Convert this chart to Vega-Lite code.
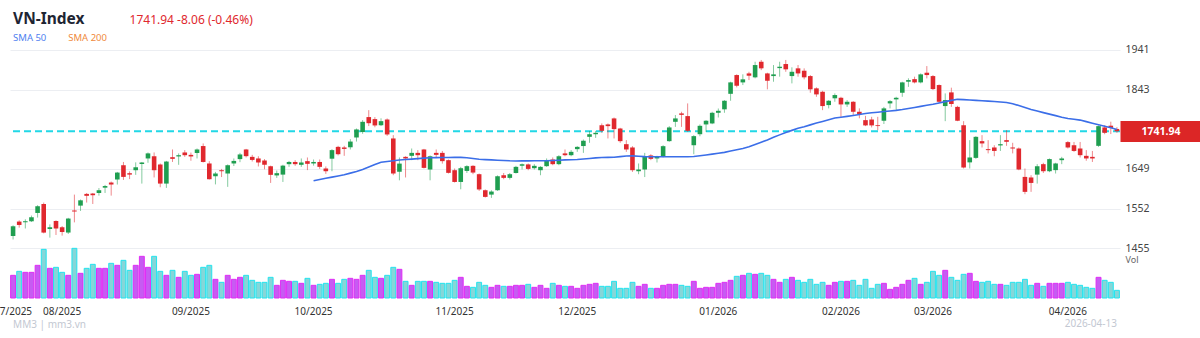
{
  "$schema": "https://vega.github.io/schema/vega-lite/v6.json",
  "width": 1110,
  "height": 253,
  "autosize": {"type": "none"},
  "padding": {"left": 10, "top": 45, "right": 80, "bottom": 40},
  "background": "white",
  "config": {"view": {"stroke": null}, "font": "Noto Sans", "axis": {"labelFont": "Noto Sans", "titleFont": "Noto Sans"}, "text": {"font": "Noto Sans"}},
  "datasets": {
    "ohlc": [
      {"d":"2025-07-22","o":1485.2,"h":1511.4,"l":1476.6,"c":1509.0,"v":680},
      {"d":"2025-07-23","o":1520.5,"h":1523.6,"l":1505.6,"c":1512.2,"v":800},
      {"d":"2025-07-24","o":1518.6,"h":1526.1,"l":1503.6,"c":1521.6,"v":770},
      {"d":"2025-07-25","o":1521.2,"h":1535.2,"l":1519.6,"c":1531.1,"v":770},
      {"d":"2025-07-28","o":1541.6,"h":1560.6,"l":1530.3,"c":1558.1,"v":980},
      {"d":"2025-07-29","o":1563.6,"h":1567.1,"l":1491.6,"c":1493.5,"v":1460},
      {"d":"2025-07-30","o":1502.6,"h":1513.6,"l":1481.2,"c":1506.6,"v":890},
      {"d":"2025-07-31","o":1522.0,"h":1523.6,"l":1487.6,"c":1503.6,"v":920},
      {"d":"2025-08-01","o":1506.6,"h":1509.6,"l":1486.1,"c":1495.0,"v":770},
      {"d":"2025-08-04","o":1493.6,"h":1529.6,"l":1490.1,"c":1527.9,"v":680},
      {"d":"2025-08-05","o":1547.6,"h":1586.6,"l":1518.6,"c":1545.1,"v":1490},
      {"d":"2025-08-06","o":1559.6,"h":1574.6,"l":1546.6,"c":1572.6,"v":740},
      {"d":"2025-08-07","o":1588.3,"h":1590.6,"l":1567.1,"c":1583.6,"v":890},
      {"d":"2025-08-08","o":1589.2,"h":1590.6,"l":1563.6,"c":1585.1,"v":1010},
      {"d":"2025-08-11","o":1590.6,"h":1602.6,"l":1584.1,"c":1597.3,"v":890},
      {"d":"2025-08-12","o":1603.6,"h":1610.3,"l":1590.6,"c":1607.6,"v":890},
      {"d":"2025-08-13","o":1616.2,"h":1618.6,"l":1584.1,"c":1611.3,"v":1040},
      {"d":"2025-08-14","o":1623.6,"h":1642.2,"l":1611.3,"c":1640.6,"v":980},
      {"d":"2025-08-15","o":1658.6,"h":1666.6,"l":1622.6,"c":1630.0,"v":1130},
      {"d":"2025-08-18","o":1639.1,"h":1643.6,"l":1624.6,"c":1635.6,"v":830},
      {"d":"2025-08-19","o":1646.4,"h":1665.6,"l":1635.0,"c":1653.6,"v":980},
      {"d":"2025-08-20","o":1661.6,"h":1666.6,"l":1613.6,"c":1665.3,"v":1250},
      {"d":"2025-08-21","o":1675.2,"h":1689.9,"l":1664.6,"c":1687.6,"v":920},
      {"d":"2025-08-22","o":1680.6,"h":1689.9,"l":1628.6,"c":1646.4,"v":1250},
      {"d":"2025-08-25","o":1660.4,"h":1662.9,"l":1604.6,"c":1613.6,"v":800},
      {"d":"2025-08-26","o":1613.6,"h":1669.2,"l":1603.0,"c":1667.6,"v":680},
      {"d":"2025-08-27","o":1678.3,"h":1697.2,"l":1666.6,"c":1674.2,"v":830},
      {"d":"2025-08-28","o":1680.1,"h":1687.6,"l":1659.6,"c":1683.2,"v":620},
      {"d":"2025-08-29","o":1689.9,"h":1695.6,"l":1679.1,"c":1683.2,"v":800},
      {"d":"2025-09-03","o":1684.0,"h":1689.6,"l":1669.6,"c":1680.1,"v":680},
      {"d":"2025-09-04","o":1688.6,"h":1699.6,"l":1675.2,"c":1697.2,"v":710},
      {"d":"2025-09-05","o":1705.6,"h":1712.0,"l":1665.3,"c":1666.6,"v":920},
      {"d":"2025-09-08","o":1662.9,"h":1668.6,"l":1623.6,"c":1624.3,"v":980},
      {"d":"2025-09-09","o":1631.6,"h":1642.2,"l":1611.6,"c":1638.3,"v":560},
      {"d":"2025-09-10","o":1646.4,"h":1649.6,"l":1629.6,"c":1643.9,"v":470},
      {"d":"2025-09-11","o":1638.3,"h":1660.6,"l":1605.6,"c":1658.6,"v":680},
      {"d":"2025-09-12","o":1662.9,"h":1675.2,"l":1656.6,"c":1669.2,"v":560},
      {"d":"2025-09-15","o":1673.6,"h":1688.9,"l":1666.1,"c":1685.0,"v":620},
      {"d":"2025-09-16","o":1697.2,"h":1698.6,"l":1677.6,"c":1680.8,"v":680},
      {"d":"2025-09-17","o":1679.1,"h":1684.0,"l":1667.8,"c":1671.6,"v":530},
      {"d":"2025-09-18","o":1675.2,"h":1680.6,"l":1655.6,"c":1665.3,"v":470},
      {"d":"2025-09-19","o":1670.2,"h":1673.6,"l":1648.6,"c":1659.6,"v":470},
      {"d":"2025-09-22","o":1656.1,"h":1657.6,"l":1615.2,"c":1635.0,"v":620},
      {"d":"2025-09-23","o":1633.6,"h":1645.6,"l":1627.6,"c":1639.1,"v":380},
      {"d":"2025-09-24","o":1635.6,"h":1659.6,"l":1617.6,"c":1657.6,"v":530},
      {"d":"2025-09-25","o":1661.2,"h":1669.2,"l":1654.6,"c":1666.6,"v":500},
      {"d":"2025-09-26","o":1666.6,"h":1671.0,"l":1657.1,"c":1661.2,"v":500},
      {"d":"2025-09-29","o":1659.6,"h":1675.2,"l":1654.6,"c":1665.3,"v":440},
      {"d":"2025-09-30","o":1668.6,"h":1677.6,"l":1646.6,"c":1662.0,"v":590},
      {"d":"2025-10-01","o":1662.9,"h":1672.6,"l":1657.6,"c":1666.6,"v":380,"s":1620.7},
      {"d":"2025-10-02","o":1666.6,"h":1672.6,"l":1649.6,"c":1654.6,"v":410,"s":1623.7},
      {"d":"2025-10-03","o":1650.6,"h":1655.6,"l":1637.3,"c":1643.9,"v":440,"s":1626.5},
      {"d":"2025-10-06","o":1674.6,"h":1698.0,"l":1643.9,"c":1695.6,"v":560,"s":1629.4},
      {"d":"2025-10-07","o":1703.6,"h":1706.1,"l":1682.6,"c":1685.6,"v":440,"s":1632.2},
      {"d":"2025-10-08","o":1702.1,"h":1706.1,"l":1681.6,"c":1698.6,"v":560,"s":1635.3},
      {"d":"2025-10-09","o":1702.6,"h":1722.5,"l":1697.2,"c":1716.6,"v":590,"s":1639.2},
      {"d":"2025-10-10","o":1726.6,"h":1748.6,"l":1716.6,"c":1746.3,"v":560,"s":1643.1},
      {"d":"2025-10-13","o":1739.9,"h":1769.1,"l":1735.6,"c":1765.0,"v":680,"s":1648.1},
      {"d":"2025-10-14","o":1776.6,"h":1793.6,"l":1754.6,"c":1761.6,"v":830,"s":1654.4},
      {"d":"2025-10-15","o":1771.6,"h":1776.6,"l":1751.6,"c":1756.1,"v":620,"s":1660.6},
      {"d":"2025-10-16","o":1756.6,"h":1773.6,"l":1754.6,"c":1766.6,"v":590,"s":1666.1},
      {"d":"2025-10-17","o":1770.6,"h":1773.3,"l":1730.6,"c":1734.0,"v":680,"s":1667.8},
      {"d":"2025-10-20","o":1724.2,"h":1732.3,"l":1634.2,"c":1638.3,"v":920,"s":1669.5},
      {"d":"2025-10-21","o":1642.6,"h":1677.6,"l":1621.6,"c":1662.6,"v":860,"s":1671.3},
      {"d":"2025-10-22","o":1679.1,"h":1680.6,"l":1628.6,"c":1675.2,"v":500,"s":1672.5},
      {"d":"2025-10-23","o":1681.6,"h":1699.6,"l":1671.0,"c":1688.9,"v":380,"s":1673.6},
      {"d":"2025-10-24","o":1688.9,"h":1695.6,"l":1671.0,"c":1683.2,"v":500,"s":1674.8},
      {"d":"2025-10-27","o":1697.2,"h":1698.6,"l":1650.6,"c":1652.1,"v":500,"s":1675.9},
      {"d":"2025-10-28","o":1648.1,"h":1682.6,"l":1621.6,"c":1680.6,"v":500,"s":1677.0},
      {"d":"2025-10-29","o":1688.9,"h":1697.2,"l":1677.6,"c":1684.0,"v":470,"s":1677.2},
      {"d":"2025-10-30","o":1688.9,"h":1693.6,"l":1662.6,"c":1668.6,"v":440,"s":1677.4},
      {"d":"2025-10-31","o":1671.0,"h":1672.6,"l":1638.3,"c":1639.9,"v":440,"s":1677.6},
      {"d":"2025-11-03","o":1646.4,"h":1650.6,"l":1616.2,"c":1617.6,"v":530,"s":1677.8},
      {"d":"2025-11-04","o":1617.6,"h":1654.6,"l":1599.6,"c":1651.3,"v":620,"s":1677.9},
      {"d":"2025-11-05","o":1644.6,"h":1658.6,"l":1639.6,"c":1656.3,"v":350,"s":1676.8},
      {"d":"2025-11-06","o":1657.1,"h":1658.6,"l":1636.6,"c":1640.6,"v":320,"s":1675.1},
      {"d":"2025-11-07","o":1636.6,"h":1638.3,"l":1595.6,"c":1599.2,"v":470,"s":1673.3},
      {"d":"2025-11-10","o":1597.3,"h":1599.2,"l":1579.4,"c":1581.0,"v":380,"s":1672.4},
      {"d":"2025-11-11","o":1586.6,"h":1597.3,"l":1578.6,"c":1594.1,"v":320,"s":1671.7},
      {"d":"2025-11-12","o":1597.3,"h":1633.6,"l":1595.6,"c":1631.6,"v":380,"s":1670.9},
      {"d":"2025-11-13","o":1634.1,"h":1639.6,"l":1624.3,"c":1627.6,"v":350,"s":1670.2},
      {"d":"2025-11-14","o":1627.6,"h":1639.6,"l":1623.6,"c":1636.6,"v":350,"s":1669.4},
      {"d":"2025-11-17","o":1639.6,"h":1657.1,"l":1638.3,"c":1654.6,"v":380,"s":1669.1},
      {"d":"2025-11-18","o":1657.6,"h":1662.9,"l":1648.1,"c":1661.2,"v":380,"s":1669.2},
      {"d":"2025-11-19","o":1660.6,"h":1662.9,"l":1646.4,"c":1649.6,"v":410,"s":1669.3},
      {"d":"2025-11-20","o":1651.3,"h":1661.2,"l":1648.1,"c":1657.1,"v":320,"s":1669.4},
      {"d":"2025-11-21","o":1646.4,"h":1656.3,"l":1634.1,"c":1654.6,"v":380,"s":1669.6},
      {"d":"2025-11-24","o":1656.3,"h":1675.2,"l":1654.6,"c":1669.2,"v":290,"s":1669.7},
      {"d":"2025-11-25","o":1672.6,"h":1677.6,"l":1658.6,"c":1661.2,"v":440,"s":1670.3},
      {"d":"2025-11-26","o":1661.2,"h":1683.2,"l":1658.6,"c":1680.6,"v":380,"s":1670.9},
      {"d":"2025-11-27","o":1687.6,"h":1697.2,"l":1680.6,"c":1683.2,"v":350,"s":1671.6},
      {"d":"2025-11-28","o":1683.2,"h":1695.6,"l":1680.6,"c":1691.4,"v":350,"s":1672.2},
      {"d":"2025-12-01","o":1698.0,"h":1705.3,"l":1691.4,"c":1703.6,"v":290,"s":1672.8},
      {"d":"2025-12-02","o":1705.6,"h":1721.6,"l":1688.9,"c":1718.6,"v":380,"s":1673.9},
      {"d":"2025-12-03","o":1728.2,"h":1742.6,"l":1713.6,"c":1734.6,"v":410,"s":1675.2},
      {"d":"2025-12-04","o":1734.6,"h":1742.6,"l":1725.6,"c":1738.0,"v":440,"s":1676.6},
      {"d":"2025-12-05","o":1756.6,"h":1761.0,"l":1738.0,"c":1742.9,"v":350,"s":1677.6},
      {"d":"2025-12-08","o":1758.6,"h":1761.0,"l":1724.2,"c":1754.4,"v":350,"s":1677.8},
      {"d":"2025-12-09","o":1773.3,"h":1775.6,"l":1724.2,"c":1747.1,"v":500,"s":1678.3},
      {"d":"2025-12-10","o":1748.6,"h":1750.3,"l":1713.6,"c":1717.6,"v":290,"s":1679.7},
      {"d":"2025-12-11","o":1710.2,"h":1720.1,"l":1691.4,"c":1697.2,"v":290,"s":1681.1},
      {"d":"2025-12-12","o":1702.1,"h":1705.3,"l":1642.2,"c":1646.4,"v":470,"s":1681.5},
      {"d":"2025-12-15","o":1643.9,"h":1662.9,"l":1636.6,"c":1648.1,"v":350,"s":1680.6},
      {"d":"2025-12-16","o":1648.1,"h":1688.9,"l":1629.6,"c":1679.1,"v":410,"s":1679.8},
      {"d":"2025-12-17","o":1682.6,"h":1685.6,"l":1671.0,"c":1674.2,"v":290,"s":1679.5},
      {"d":"2025-12-18","o":1675.2,"h":1681.6,"l":1665.3,"c":1679.1,"v":290,"s":1679.4},
      {"d":"2025-12-19","o":1679.1,"h":1707.6,"l":1677.6,"c":1705.3,"v":380,"s":1679.3},
      {"d":"2025-12-22","o":1717.6,"h":1754.4,"l":1716.0,"c":1751.2,"v":410,"s":1679.3},
      {"d":"2025-12-23","o":1765.0,"h":1781.6,"l":1752.6,"c":1773.3,"v":410,"s":1679.4},
      {"d":"2025-12-24","o":1785.6,"h":1789.6,"l":1752.6,"c":1782.0,"v":380,"s":1679.4},
      {"d":"2025-12-25","o":1779.0,"h":1810.1,"l":1740.4,"c":1742.9,"v":350,"s":1679.5},
      {"d":"2025-12-26","o":1707.6,"h":1732.3,"l":1685.6,"c":1729.9,"v":500,"s":1679.8},
      {"d":"2025-12-29","o":1734.6,"h":1758.6,"l":1729.6,"c":1755.2,"v":290,"s":1681.8},
      {"d":"2025-12-30","o":1758.6,"h":1769.1,"l":1740.4,"c":1767.6,"v":320,"s":1683.8},
      {"d":"2025-12-31","o":1761.0,"h":1789.6,"l":1759.2,"c":1787.1,"v":320,"s":1685.8},
      {"d":"2026-01-05","o":1787.1,"h":1797.6,"l":1775.6,"c":1792.0,"v":440,"s":1687.9},
      {"d":"2026-01-06","o":1795.6,"h":1818.2,"l":1787.1,"c":1816.6,"v":470,"s":1690.1},
      {"d":"2026-01-07","o":1833.6,"h":1863.2,"l":1816.6,"c":1861.6,"v":530,"s":1693.3},
      {"d":"2026-01-08","o":1879.6,"h":1881.3,"l":1849.4,"c":1853.4,"v":650,"s":1696.4},
      {"d":"2026-01-09","o":1861.6,"h":1881.3,"l":1855.1,"c":1869.1,"v":680,"s":1699.6},
      {"d":"2026-01-12","o":1883.6,"h":1887.6,"l":1867.3,"c":1878.0,"v":740,"s":1703.8},
      {"d":"2026-01-13","o":1874.0,"h":1912.2,"l":1871.6,"c":1904.1,"v":710,"s":1709.4},
      {"d":"2026-01-14","o":1912.2,"h":1916.6,"l":1891.6,"c":1896.0,"v":740,"s":1715.0},
      {"d":"2026-01-15","o":1883.6,"h":1885.3,"l":1844.6,"c":1865.6,"v":680,"s":1720.7},
      {"d":"2026-01-16","o":1877.1,"h":1904.1,"l":1863.2,"c":1881.3,"v":560,"s":1727.0},
      {"d":"2026-01-19","o":1896.6,"h":1912.2,"l":1875.6,"c":1900.0,"v":470,"s":1733.0},
      {"d":"2026-01-20","o":1906.6,"h":1916.6,"l":1887.6,"c":1893.6,"v":560,"s":1739.0},
      {"d":"2026-01-21","o":1877.1,"h":1898.6,"l":1859.2,"c":1887.6,"v":620,"s":1744.0},
      {"d":"2026-01-22","o":1896.0,"h":1904.1,"l":1875.6,"c":1883.6,"v":530,"s":1749.0},
      {"d":"2026-01-23","o":1890.2,"h":1896.0,"l":1869.1,"c":1874.0,"v":470,"s":1753.0},
      {"d":"2026-01-26","o":1877.1,"h":1879.6,"l":1836.2,"c":1844.6,"v":560,"s":1757.5},
      {"d":"2026-01-27","o":1847.0,"h":1849.4,"l":1826.3,"c":1832.2,"v":410,"s":1762.0},
      {"d":"2026-01-28","o":1838.6,"h":1841.1,"l":1793.6,"c":1803.6,"v":470,"s":1766.0},
      {"d":"2026-01-29","o":1806.0,"h":1818.2,"l":1797.9,"c":1816.6,"v":380,"s":1770.0},
      {"d":"2026-01-30","o":1822.6,"h":1834.6,"l":1814.1,"c":1830.6,"v":470,"s":1774.3},
      {"d":"2026-02-02","o":1823.9,"h":1826.3,"l":1777.2,"c":1807.6,"v":500,"s":1776.3},
      {"d":"2026-02-03","o":1807.6,"h":1818.2,"l":1801.6,"c":1814.1,"v":500,"s":1778.3},
      {"d":"2026-02-04","o":1814.1,"h":1815.6,"l":1781.4,"c":1789.6,"v":530,"s":1780.6},
      {"d":"2026-02-05","o":1789.6,"h":1797.9,"l":1773.6,"c":1783.9,"v":380,"s":1783.0},
      {"d":"2026-02-06","o":1769.1,"h":1779.6,"l":1754.4,"c":1756.2,"v":560,"s":1785.5},
      {"d":"2026-02-09","o":1770.6,"h":1777.2,"l":1751.2,"c":1756.2,"v":290,"s":1787.1},
      {"d":"2026-02-10","o":1756.6,"h":1777.2,"l":1744.6,"c":1754.6,"v":410,"s":1788.6},
      {"d":"2026-02-11","o":1767.6,"h":1801.6,"l":1759.6,"c":1797.9,"v":440,"s":1790.1},
      {"d":"2026-02-12","o":1810.1,"h":1818.2,"l":1797.9,"c":1815.6,"v":260,"s":1791.5},
      {"d":"2026-02-13","o":1820.0,"h":1826.3,"l":1793.6,"c":1823.9,"v":320,"s":1793.0},
      {"d":"2026-02-23","o":1836.2,"h":1863.2,"l":1826.3,"c":1861.6,"v":410,"s":1795.0},
      {"d":"2026-02-24","o":1863.2,"h":1871.6,"l":1850.6,"c":1867.3,"v":530,"s":1797.5},
      {"d":"2026-02-25","o":1869.6,"h":1875.6,"l":1859.2,"c":1861.6,"v":590,"s":1800.2},
      {"d":"2026-02-26","o":1861.6,"h":1883.6,"l":1859.2,"c":1881.3,"v":410,"s":1802.8},
      {"d":"2026-02-27","o":1885.3,"h":1901.6,"l":1871.4,"c":1879.6,"v":470,"s":1805.4},
      {"d":"2026-03-02","o":1877.1,"h":1879.6,"l":1842.8,"c":1845.2,"v":800,"s":1808.0},
      {"d":"2026-03-03","o":1855.1,"h":1856.6,"l":1811.6,"c":1814.1,"v":680,"s":1811.2},
      {"d":"2026-03-04","o":1803.6,"h":1834.6,"l":1766.6,"c":1818.2,"v":830,"s":1814.4},
      {"d":"2026-03-05","o":1837.1,"h":1848.6,"l":1801.6,"c":1808.6,"v":620,"s":1817.6},
      {"d":"2026-03-06","o":1801.6,"h":1804.2,"l":1766.6,"c":1767.6,"v":530,"s":1820.1},
      {"d":"2026-03-09","o":1756.6,"h":1766.6,"l":1650.6,"c":1653.0,"v":710,"s":1819.3},
      {"d":"2026-03-10","o":1665.6,"h":1720.1,"l":1650.6,"c":1677.6,"v":740,"s":1818.4},
      {"d":"2026-03-11","o":1676.6,"h":1729.9,"l":1674.2,"c":1728.2,"v":500,"s":1817.6},
      {"d":"2026-03-12","o":1717.6,"h":1732.3,"l":1702.1,"c":1712.0,"v":470,"s":1816.8},
      {"d":"2026-03-13","o":1698.0,"h":1720.1,"l":1687.6,"c":1695.6,"v":500,"s":1815.7},
      {"d":"2026-03-16","o":1702.1,"h":1707.6,"l":1680.6,"c":1693.6,"v":410,"s":1814.6},
      {"d":"2026-03-17","o":1707.1,"h":1732.3,"l":1693.6,"c":1710.2,"v":410,"s":1813.5},
      {"d":"2026-03-18","o":1720.1,"h":1744.6,"l":1706.1,"c":1716.0,"v":380,"s":1812.4},
      {"d":"2026-03-19","o":1702.1,"h":1713.6,"l":1687.6,"c":1699.6,"v":470,"s":1809.5},
      {"d":"2026-03-20","o":1699.6,"h":1702.1,"l":1646.4,"c":1648.1,"v":470,"s":1804.8},
      {"d":"2026-03-23","o":1630.0,"h":1650.6,"l":1587.6,"c":1593.3,"v":560,"s":1800.0},
      {"d":"2026-03-24","o":1628.6,"h":1634.1,"l":1593.3,"c":1615.2,"v":380,"s":1795.2},
      {"d":"2026-03-25","o":1635.6,"h":1661.2,"l":1613.6,"c":1656.1,"v":440,"s":1791.3},
      {"d":"2026-03-26","o":1661.2,"h":1664.6,"l":1639.6,"c":1643.9,"v":350,"s":1787.5},
      {"d":"2026-03-27","o":1643.9,"h":1675.2,"l":1641.6,"c":1673.6,"v":440,"s":1783.8},
      {"d":"2026-03-30","o":1646.6,"h":1664.6,"l":1638.3,"c":1662.9,"v":440,"s":1780.2},
      {"d":"2026-03-31","o":1671.0,"h":1679.1,"l":1661.2,"c":1675.2,"v":440,"s":1776.4},
      {"d":"2026-04-01","o":1715.2,"h":1717.6,"l":1699.6,"c":1702.1,"v":470,"s":1773.2},
      {"d":"2026-04-02","o":1707.6,"h":1715.6,"l":1691.4,"c":1693.6,"v":410,"s":1771.2},
      {"d":"2026-04-03","o":1699.6,"h":1715.6,"l":1677.6,"c":1683.2,"v":380,"s":1769.2},
      {"d":"2026-04-06","o":1681.6,"h":1695.6,"l":1669.6,"c":1675.2,"v":320,"s":1765.4},
      {"d":"2026-04-07","o":1679.1,"h":1693.6,"l":1666.6,"c":1675.2,"v":290,"s":1761.7},
      {"d":"2026-04-08","o":1706.1,"h":1756.2,"l":1703.6,"c":1754.4,"v":620,"s":1757.9},
      {"d":"2026-04-09","o":1751.2,"h":1756.9,"l":1734.6,"c":1738.0,"v":530,"s":1754.1},
      {"d":"2026-04-10","o":1755.5,"h":1765.3,"l":1735.0,"c":1750.0,"v":470,"s":1750.3},
      {"d":"2026-04-13","o":1747.5,"h":1752.0,"l":1738.0,"c":1741.94,"v":230,"s":1746.4}
    ]
  },
  "data": {"name": "ohlc"},
  "layer": [
    {
      "layer": [
        {
          "mark": {"type": "rule", "color": "#22d8e6", "strokeWidth": 2, "strokeDash": [7, 4]},
          "data": {"values": [{}]},
          "encoding": {"y": {"datum": 1741.94, "type": "quantitative"}}
        },
        {
          "mark": {"type": "rule", "strokeWidth": 1, "opacity": 0.55},
          "encoding": {
            "x": {
              "field": "d",
              "type": "ordinal",
              "scale": {"type": "band", "paddingInner": 0, "paddingOuter": 0},
              "axis": {
                "values": ["2025-07-22","2025-08-01","2025-09-03","2025-10-01","2025-11-03","2025-12-01","2026-01-05","2026-02-02","2026-03-02","2026-04-01"],
                "labelExpr": "slice(datum.value, 5, 7) + '/' + slice(datum.value, 0, 4)",
                "domain": false,
                "ticks": false,
                "grid": false,
                "labelAngle": 0,
                "labelFontSize": 10,
                "labelColor": "#333333",
                "labelPadding": 8,
                "labelOverlap": false,
                "title": null
              }
            },
            "y": {
              "field": "l",
              "type": "quantitative",
              "scale": {"domain": [1333.2, 1953.25], "nice": false, "zero": false},
              "axis": {
                "orient": "right",
                "values": [1455, 1552.2, 1649.4, 1741.94, 1843.8, 1941],
                "labelExpr": "datum.value == 1741.94 ? '1741.94' : format(floor(datum.value), 'd')",
                "domain": false,
                "ticks": true,
                "tickSize": {"condition": {"test": "datum.value == 1741.94", "value": 80}, "value": 0},
                "tickWidth": {"condition": {"test": "datum.value == 1741.94", "value": 21}, "value": 0},
                "tickColor": {"condition": {"test": "datum.value == 1741.94", "value": "#dc2626"}, "value": "#ffffff"},
                "labelColor": {"condition": {"test": "datum.value == 1741.94", "value": "#ffffff"}, "value": "#444444"},
                "labelFontWeight": {"condition": {"test": "datum.value == 1741.94", "value": "bold"}, "value": "normal"},
                "labelPadding": {"condition": {"test": "datum.value == 1741.94", "value": -59}, "value": 5},
                "gridColor": {"condition": {"test": "datum.value == 1741.94", "value": "#ffffff"}, "value": "#eceef2"},
                "grid": true,
                "labelFontSize": 10.5,
                "labelOverlap": false,
                "labelBound": false,
                "title": null
              }
            },
            "y2": {"field": "h"},
            "color": {"condition": {"test": "datum.c >= datum.o", "value": "#1f9e50"}, "value": "#e0282e"}
          }
        },
        {
          "mark": {"type": "bar", "width": {"band": 0.75}},
          "encoding": {
            "x": {"field": "d", "type": "ordinal"},
            "y": {"field": "o", "type": "quantitative"},
            "y2": {"field": "c"},
            "color": {"condition": {"test": "datum.c >= datum.o", "value": "#1f9e50"}, "value": "#e0282e"}
          }
        },
        {
          "mark": {"type": "line", "color": "#3b6ee8", "strokeWidth": 1.6},
          "transform": [{"filter": "isValid(datum.s)"}],
          "encoding": {"x": {"field": "d", "type": "ordinal"}, "y": {"field": "s", "type": "quantitative"}}
        },
        {
          "mark": {"type": "text", "align": "left", "baseline": "middle", "fontSize": 15.5, "fontWeight": "bold", "color": "#1e2533"},
          "data": {"values": [{}]},
          "encoding": {"x": {"datum": "2025-07-22", "type": "ordinal"}, "y": {"datum": 2017, "type": "quantitative"}, "text": {"value": "VN-Index"}}
        },
        {
          "mark": {"type": "text", "align": "left", "baseline": "middle", "fontSize": 12, "color": "#e0282e"},
          "data": {"values": [{}]},
          "encoding": {"x": {"datum": "2025-08-18", "type": "ordinal"}, "y": {"datum": 2014.5, "type": "quantitative"}, "text": {"value": "1741.94 -8.06 (-0.46%)"}}
        },
        {
          "mark": {"type": "text", "align": "left", "baseline": "middle", "fontSize": 9.5, "color": "#4f7ff0"},
          "data": {"values": [{}]},
          "encoding": {"x": {"datum": "2025-07-22", "type": "ordinal"}, "y": {"datum": 1970.4, "type": "quantitative"}, "text": {"value": "SMA 50"}}
        },
        {
          "mark": {"type": "text", "align": "left", "baseline": "middle", "fontSize": 9.5, "color": "#f08a3c"},
          "data": {"values": [{}]},
          "encoding": {"x": {"datum": "2025-08-04", "type": "ordinal"}, "y": {"datum": 1970.4, "type": "quantitative"}, "text": {"value": "SMA 200"}}
        },
        {
          "mark": {"type": "text", "align": "left", "baseline": "middle", "fontSize": 10, "color": "#c3c8d2"},
          "data": {"values": [{}]},
          "encoding": {"x": {"datum": "2025-07-22", "type": "ordinal"}, "y": {"datum": 1267, "type": "quantitative"}, "text": {"value": "MM3  |  mm3.vn"}}
        },
        {
          "mark": {"type": "text", "align": "right", "baseline": "middle", "fontSize": 10, "color": "#c3c8d2"},
          "data": {"values": [{}]},
          "encoding": {"x": {"datum": "2026-04-13", "type": "ordinal"}, "y": {"datum": 1269.4, "type": "quantitative"}, "text": {"value": "2026-04-13"}}
        }
      ]
    },
    {
      "mark": {"type": "bar", "width": {"band": 0.8}, "strokeWidth": 1},
      "encoding": {
        "x": {"field": "d", "type": "ordinal"},
        "y": {
          "field": "v",
          "type": "quantitative",
          "scale": {"domain": [0, 7590], "nice": false},
          "axis": {
            "orient": "right",
            "labels": false,
            "ticks": false,
            "domain": false,
            "grid": false,
            "title": "Vol",
            "titleAngle": 0,
            "titleAlign": "left",
            "titleBaseline": "middle",
            "titleX": 5,
            "titleY": 214,
            "titleFontSize": 9,
            "titleFontWeight": "normal",
            "titleColor": "#666666"
          }
        },
        "fill": {"condition": {"test": "datum.c >= datum.o", "value": "#c65cf2"}, "value": "#86d6d8"},
        "stroke": {"condition": {"test": "datum.c >= datum.o", "value": "#e02cf5"}, "value": "#22e4ee"}
      }
    }
  ],
  "resolve": {"scale": {"y": "independent"}}
}
